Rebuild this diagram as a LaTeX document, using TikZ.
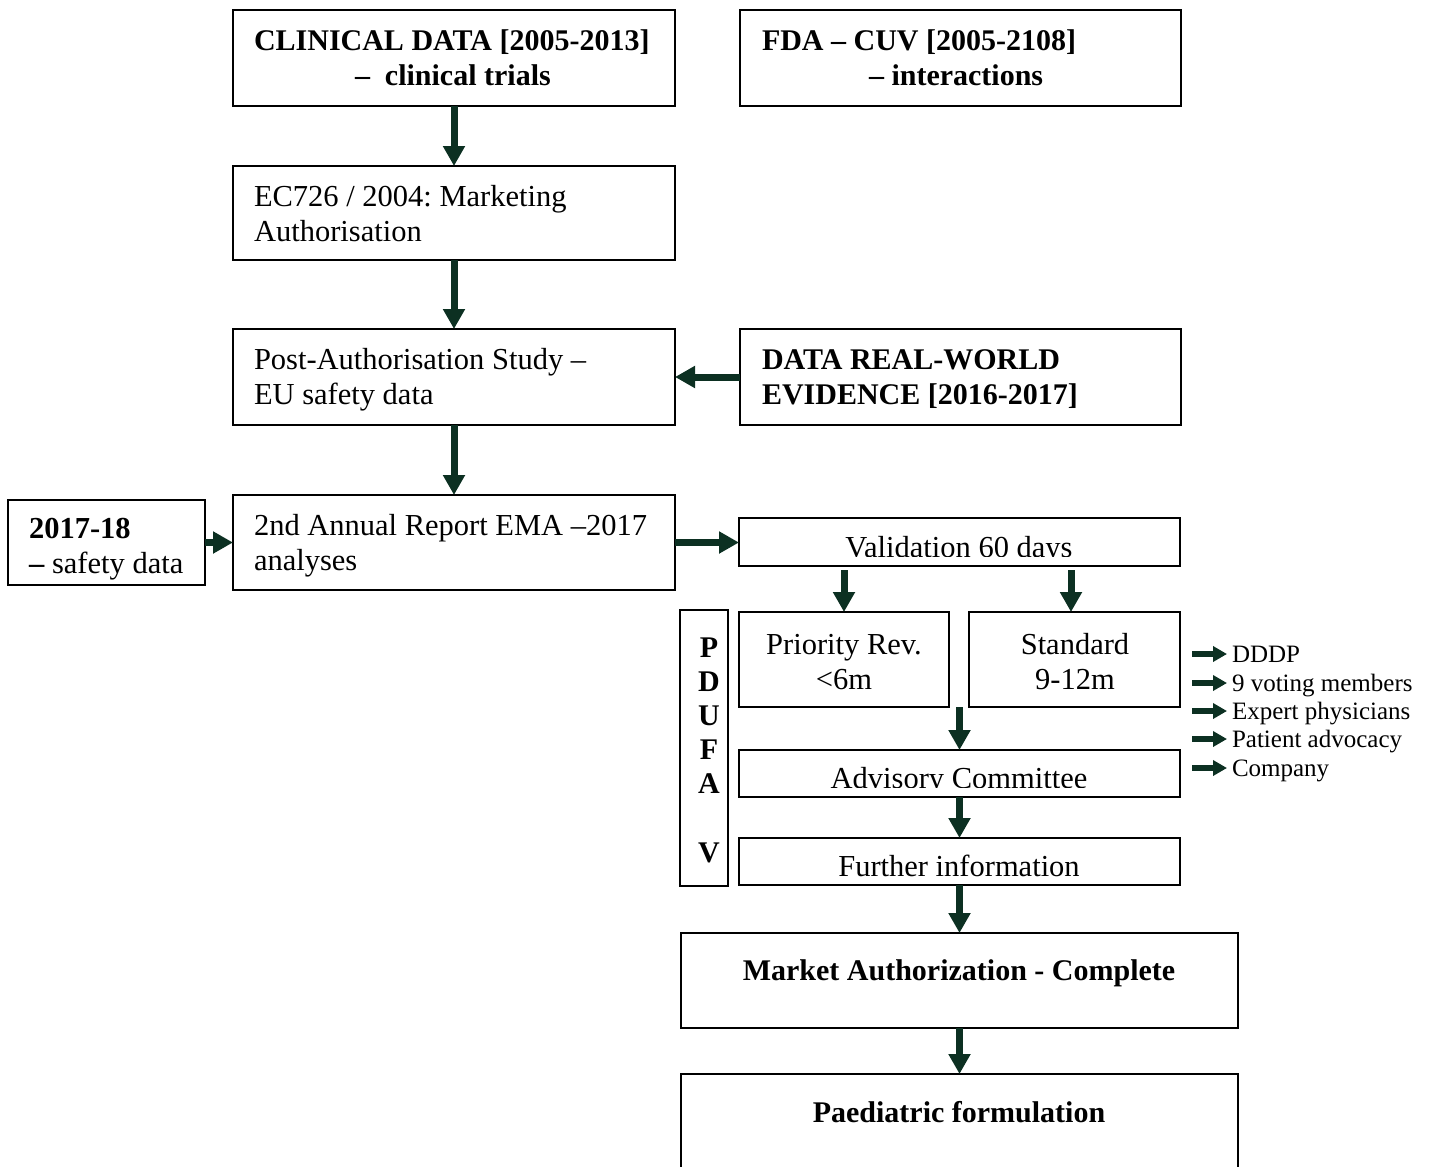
\documentclass[tikz,border=0pt]{standalone}
\usepackage{fontspec}
\setmainfont{Liberation Serif}
\usetikzlibrary{arrows.meta,calc}
\definecolor{arrgreen}{RGB}{12,48,34}
\frenchspacing
\newcommand\mkbox[5]{\node[box, minimum width={(#4-#2)*1pt}, minimum height={(#5-#3)*1pt}] (#1) at ({(#2+#4)/2},{(#3+#5)/2}) {};}
\newcommand\twol[2]{\begin{tabular}[t]{@{}l@{}}#1\\#2\end{tabular}}
\begin{document}
\begin{tikzpicture}[x=1pt,y=-1pt,
  box/.style={draw=black, line width=1.3pt, inner sep=0pt, outer sep=0pt, rectangle},
  txt/.style={inner sep=0pt, outer sep=0pt, anchor=base west, font=\fontsize{30.5}{35}\selectfont},
  btxt/.style={txt, font=\fontsize{30}{35}\selectfont\bfseries},
  small/.style={inner sep=0pt, outer sep=0pt, anchor=base west, text height=16pt, text depth=0pt, font=\fontsize{25}{28}\selectfont},
  arr/.style={draw=arrgreen, line width=7pt, -{Triangle[length=20pt,width=21pt]}},
  sarr/.style={draw=arrgreen, line width=6pt, -{Triangle[length=14pt,width=15pt]}}
]
\useasboundingbox (0,0) rectangle (1432,1167);

% boxes
\mkbox{clin}{233}{10}{675}{106}
\mkbox{fda}{740}{10}{1181}{106}
\mkbox{ec}{233}{166}{675}{260}
\mkbox{post}{233}{329}{675}{425}
\mkbox{rwe}{740}{329}{1181}{425}
\mkbox{s17}{8}{500}{205}{585}
\mkbox{ann}{233}{495}{675}{590}
\mkbox{val}{739}{518}{1180}{566}
\mkbox{pdufa}{680}{610}{728}{886}
\mkbox{pri}{739}{612}{949}{707}
\mkbox{std}{969}{612}{1180}{707}
\mkbox{adv}{739}{750}{1180}{797}
\mkbox{fur}{739}{838}{1180}{885}
\mkbox{mkt}{681}{933}{1238}{1028}
\mkbox{ped}{681}{1074}{1238}{1190}

% texts
\node[btxt] (clint) at (254,50) {\twol{CLINICAL DATA [2005-2013]}{\hspace*{101pt}–\ \ clinical trials}};
\node[btxt] (fdat) at (762,50) {\twol{FDA – CUV [2005-2108]}{\hspace*{107pt}– interactions}};
\node[txt] (ect) at (254,206) {\twol{EC726 / 2004: Marketing}{Authorisation}};
\node[txt] (postt) at (254,369) {\twol{Post-Authorisation Study –}{EU safety data}};
\node[btxt] (rwet) at (762,369) {\twol{DATA REAL-WORLD}{EVIDENCE [2016-2017]}};
\node[txt] (s17t) at (29,538) {\twol{\bfseries 2017-18}{\textbf{–} safety data}};
\node[txt] (annt) at (254,535) {\twol{2nd Annual Report EMA –2017}{analyses}};
\begin{scope}
  \clip (739,518) rectangle (1180,556);
  \node[txt, anchor=base] (valt) at (959,557) {Validation 60 days};
\end{scope}
\node[btxt, anchor=base] (pdt) at (709,657) {\fontsize{30}{34.2}\selectfont\begin{tabular}[t]{@{}c@{}}P\\D\\U\\F\\A\\ \\V\end{tabular}};
\node[txt, anchor=base] (prit) at (844,654) {\begin{tabular}[t]{@{}c@{}}Priority Rev.\\<6m\end{tabular}};
\node[txt, anchor=base] (stdt) at (1075,654) {\begin{tabular}[t]{@{}c@{}}Standard\\9-12m\end{tabular}};
\begin{scope}
  \clip (739,750) rectangle (1180,787);
  \node[txt, anchor=base] (advt) at (959,788) {Advisory Committee};
\end{scope}
\node[txt, anchor=base] (furt) at (959,876) {Further information};
\node[btxt, anchor=base] (mktt) at (959,980) {Market Authorization - Complete};
\node[btxt, anchor=base] (pedt) at (959,1122) {Paediatric formulation};

% side list
\node[small] (l1) at (1232,662) {DDDP};
\node[small] (l2) at (1232,691) {9 voting members};
\node[small] (l3) at (1232,719) {Expert physicians};
\node[small] (l4) at (1232,747) {Patient advocacy};
\node[small] (l5) at (1232,776) {Company};
\foreach \l in {l1,l2,l3,l4,l5}
  \draw[sarr] ([xshift=-40pt]\l.west) -- ([xshift=-5pt]\l.west);

% connectors
\draw[arr] (clin.south) -- (ec.north);
\draw[arr] (ec.south) -- (post.north);
\draw[arr] (post.south) -- (ann.north);
\draw[arr] (rwe.west) -- (post.east);
\draw[arr] (s17.east) -- (ann.west |- s17.east);
\draw[arr] (ann.east) -- (val.west |- ann.east);
\coordinate (vp) at (pri.north |- val.south);
\coordinate (vs) at ([xshift=-3.5pt]std.north |- val.south);
\draw[arr, shorten <=4pt] (vp) -- (pri.north);
\draw[arr, shorten <=4pt] (vs) -- ([xshift=-3.5pt]std.north);
\coordinate (ap) at (adv.north |- pri.south);
\draw[arr] (ap) -- (adv.north);
\draw[arr] (adv.south) -- (fur.north);
\draw[arr] (fur.south) -- (mkt.north);
\draw[arr] (mkt.south) -- (ped.north);
\end{tikzpicture}
\end{document}
